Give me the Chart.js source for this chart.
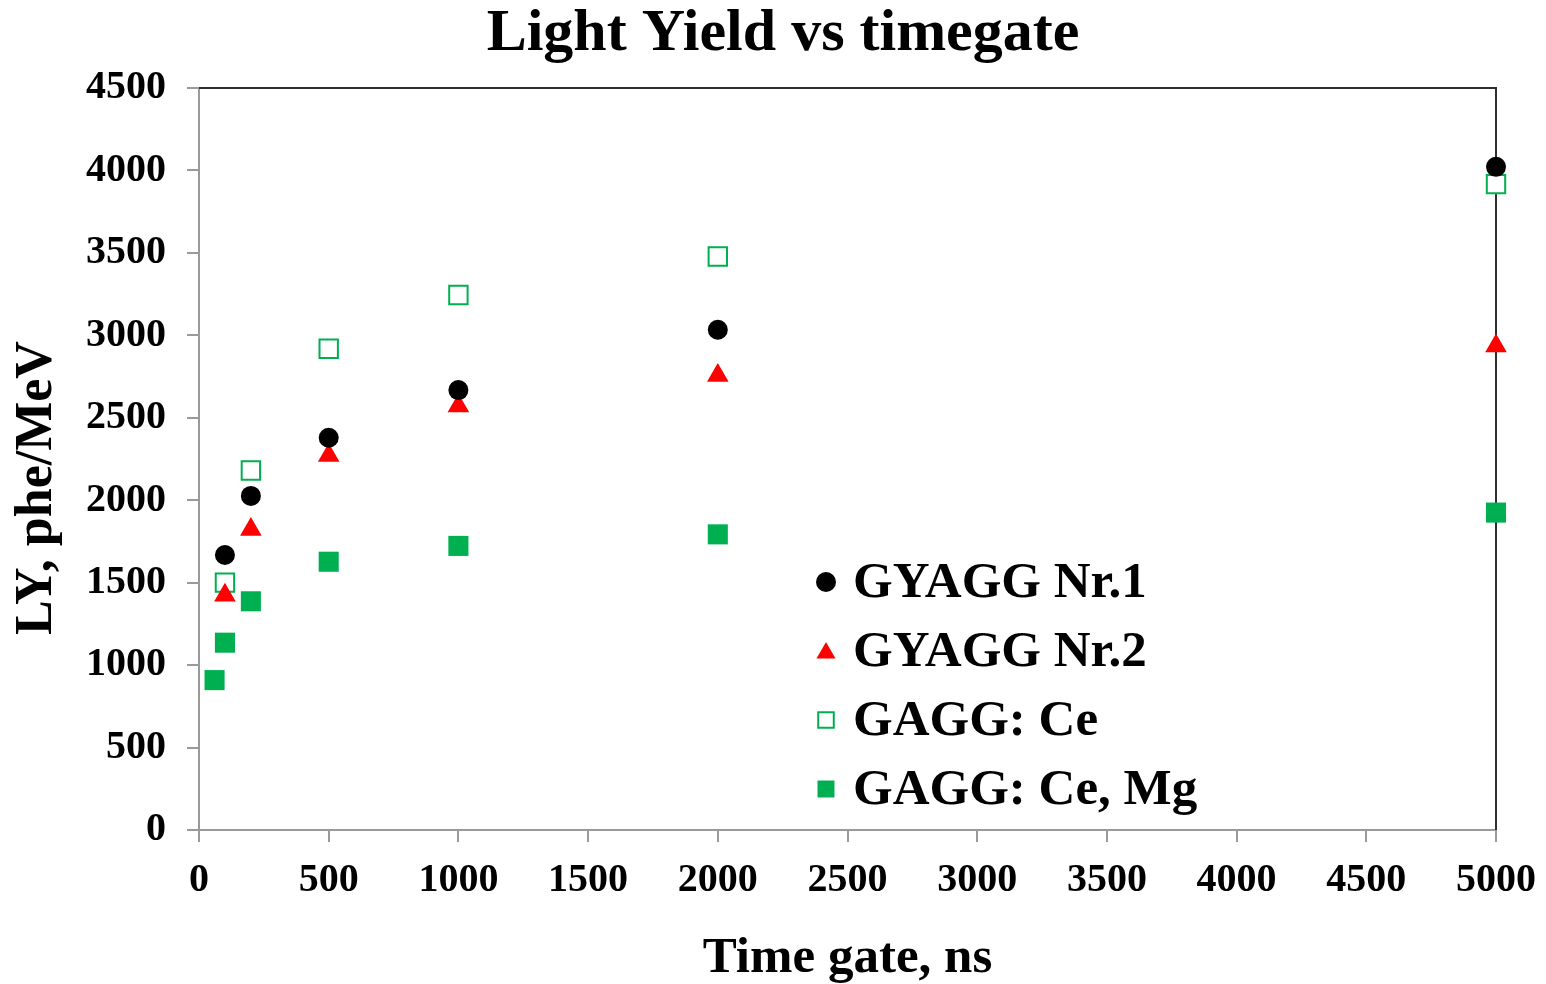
<!DOCTYPE html>
<html>
<head>
<meta charset="utf-8">
<script src="https://cdn.jsdelivr.net/npm/chart.js@4.4.1/dist/chart.umd.min.js"></script>
<style>
  html, body { margin: 0; padding: 0; background: #fff; }
  #wrap { width: 1546px; height: 984px; position: relative; }
</style>
</head>
<body>
<div id="wrap"><canvas id="chart-ly"></canvas></div>

<script>
    // values (time gate in ns, LY in phe/MeV)
    const seriesNames = ['GYAGG Nr.1', 'GYAGG Nr.2', 'GAGG: Ce', 'GAGG: Ce, Mg'];
    const gates = [100, 200, 500, 1000, 2000, 5000];
    const gatesMg = [60, 100, 200, 500, 1000, 2000, 5000];
    const lyGyagg1 = [1668, 2026, 2379, 2668, 3034, 4022];
    const lyGyagg2 = [1423, 1822, 2271, 2571, 2757, 2935];
    const lyGaggCe = [1500, 2180, 2919, 3245, 3478, 3917];
    const lyGaggCeMg = [909, 1136, 1387, 1627, 1723, 1793, 1925];
    const xTicks = [0, 500, 1000, 1500, 2000, 2500, 3000, 3500, 4000, 4500, 5000];
    const yTicks = [0, 500, 1000, 1500, 2000, 2500, 3000, 3500, 4000, 4500];
    const yTitle = 'LY, phe/MeV';

    const serif = "'Liberation Serif', 'Times New Roman', serif";
    const axisGray = '#9a9a9a';

    function pts(xs, ys) {
        return xs.map(function (x, i) { return { x: x, y: ys[i] }; });
    }

    const data = {
        datasets: [{
            label: seriesNames[0],
            data: pts(gates, lyGyagg1),
            pointStyle: 'circle',
            pointRadius: 10,
            pointHoverRadius: 10,
            backgroundColor: '#000000',
            borderColor: '#000000',
            borderWidth: 0,
            clip: false
        }, {
            label: seriesNames[1],
            data: pts(gates, lyGyagg2),
            pointStyle: 'triangle',
            pointRadius: 12.5,
            pointHoverRadius: 12.5,
            backgroundColor: '#ff0000',
            borderColor: '#ff0000',
            borderWidth: 0,
            clip: false
        }, {
            label: seriesNames[2],
            data: pts(gates, lyGaggCe),
            pointStyle: 'rect',
            pointRadius: 13,
            pointHoverRadius: 13,
            backgroundColor: '#ffffff',
            borderColor: '#00b050',
            borderWidth: 2,
            clip: false
        }, {
            label: seriesNames[3],
            data: pts(gatesMg, lyGaggCeMg),
            pointStyle: 'rect',
            pointRadius: 14.2,
            pointHoverRadius: 14.2,
            backgroundColor: '#00b050',
            borderColor: '#00b050',
            borderWidth: 0,
            clip: false
        }]
    };

    // top and right frame lines of the plot area, drawn under the points
    const frame = {
        id: 'frame',
        beforeDatasetsDraw(chart) {
            const a = chart.chartArea, ctx = chart.ctx;
            ctx.save();
            ctx.strokeStyle = '#2e2e2e';
            ctx.lineWidth = 2;
            ctx.beginPath();
            ctx.moveTo(a.left, a.top);
            ctx.lineTo(a.right, a.top);
            ctx.lineTo(a.right, a.bottom);
            ctx.stroke();
            ctx.restore();
        },
        afterDraw(chart) {
            // y axis title, set lower than the plot's middle as in the original
            const ctx = chart.ctx;
            ctx.save();
            ctx.translate(38, 488);
            ctx.rotate(-Math.PI / 2);
            ctx.fillStyle = '#000';
            ctx.font = 'bold 52px ' + serif;
            ctx.textAlign = 'center';
            ctx.textBaseline = 'middle';
            ctx.fillText(yTitle, 0, 0);
            ctx.restore();
        }
    };

    // legend drawn inside the plot, lower middle
    const innerLegend = {
        id: 'innerLegend',
        afterDraw(chart) {
            const a = chart.chartArea, ctx = chart.ctx;
            const x0 = a.left + 627, y0 = a.top + 494, gap = 69;
            const sizes = [10, 11, 11, 12];
            ctx.save();
            chart.data.datasets.forEach(function (ds, i) {
                const y = y0 + i * gap;
                ctx.fillStyle = ds.backgroundColor;
                ctx.strokeStyle = ds.borderColor;
                ctx.lineWidth = ds.borderWidth;
                Chart.helpers.drawPoint(ctx, {
                    pointStyle: ds.pointStyle,
                    radius: sizes[i],
                    rotation: 0,
                    borderWidth: ds.borderWidth
                }, x0, ds.pointStyle === 'triangle' ? y + 2 : y);
                ctx.fillStyle = '#000';
                ctx.font = 'bold 51px ' + serif;
                ctx.textBaseline = 'middle';
                ctx.textAlign = 'left';
                ctx.fillText(ds.label, x0 + 27, y + 2);
            });
            ctx.restore();
        }
    };

    const config = {
        type: 'scatter',
        data: data,
        plugins: [frame, innerLegend],
        options: {
            responsive: true,
            maintainAspectRatio: false,
            animation: false,
            layout: {
                padding: { left: 65, right: 45, top: 0, bottom: 0 }
            },
            plugins: {
                legend: { display: false },
                tooltip: { enabled: false },
                title: {
                    display: true,
                    text: 'Light Yield vs timegate',
                    color: '#000',
                    font: { family: serif, size: 60, weight: 'bold', lineHeight: 1 },
                    padding: { top: 4, bottom: 24 }
                }
            },
            scales: {
                x: {
                    type: 'linear',
                    min: 0,
                    max: 5000,
                    afterBuildTicks: function (s) { s.ticks = xTicks.map(function (v) { return { value: v }; }); },
                    afterFit: function (s) { s.paddingRight = 50; },
                    grid: { drawOnChartArea: false, drawTicks: true, tickLength: 12, color: axisGray, lineWidth: 2 },
                    border: { color: axisGray, width: 2 },
                    ticks: {
                        color: '#000',
                        padding: 15,
                        maxRotation: 0,
                        callback: function (v) { return String(v); },
                        font: { family: serif, size: 40, weight: 'bold', lineHeight: 1.2 }
                    },
                    title: {
                        display: true,
                        text: 'Time gate, ns',
                        color: '#000',
                        font: { family: serif, size: 51, weight: 'bold', lineHeight: 1 },
                        padding: { top: 13, bottom: 0 }
                    }
                },
                y: {
                    type: 'linear',
                    min: 0,
                    max: 4500,
                    afterBuildTicks: function (s) { s.ticks = yTicks.map(function (v) { return { value: v }; }); },
                    grid: { drawOnChartArea: false, drawTicks: true, tickLength: 12, color: axisGray, lineWidth: 2 },
                    border: { color: axisGray, width: 2 },
                    ticks: {
                        color: '#000',
                        padding: 21,
                        callback: function (v) { return String(v); },
                        font: { family: serif, size: 40, weight: 'bold', lineHeight: 1.2 }
                    },
                    title: { display: false }
                }
            }
        }
    };

    var chartLY = new Chart(document.getElementById('chart-ly'), config);
</script>
</body>
</html>
